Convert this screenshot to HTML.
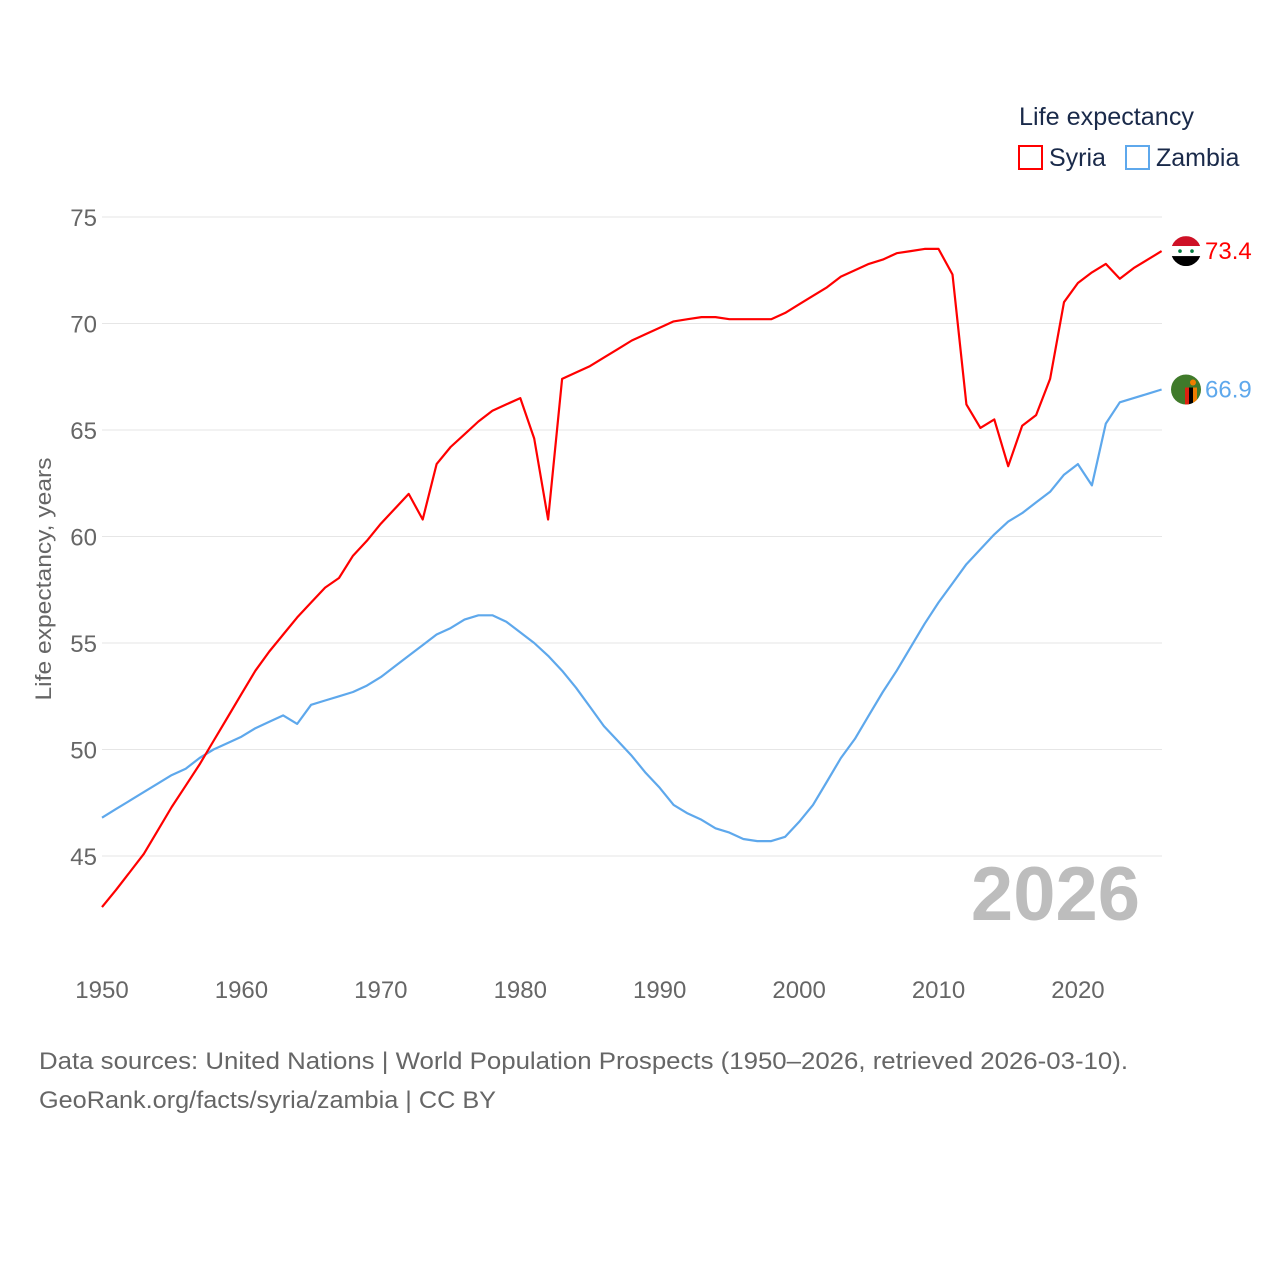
<!DOCTYPE html>
<html><head><meta charset="utf-8">
<style>
body{margin:0;background:#fff;font-family:"Liberation Sans",sans-serif;}
#wrap{position:relative;width:1280px;height:1280px;overflow:hidden;}
svg text{font-family:"Liberation Sans",sans-serif;}
</style></head>
<body>
<div id="wrap">
<svg id="chart" width="1280" height="1280"></svg>
</div>
<script>
const years = [];
for (let y = 1950; y <= 2026; y++) years.push(y);
const syria = [42.6,43.4,44.25,45.1,46.2,47.3,48.3,49.3,50.4,51.5,52.6,53.7,54.6,55.4,56.2,56.9,57.6,58.05,59.1,59.8,60.6,61.3,62.0,60.8,63.4,64.2,64.8,65.4,65.9,66.2,66.5,64.6,60.8,67.4,67.7,68.0,68.4,68.8,69.2,69.5,69.8,70.1,70.2,70.3,70.3,70.2,70.2,70.2,70.2,70.5,70.9,71.3,71.7,72.2,72.5,72.8,73.0,73.3,73.4,73.5,73.5,72.3,66.2,65.1,65.5,63.3,65.2,65.7,67.4,71.0,71.9,72.4,72.8,72.1,72.6,73.0,73.4];
const zambia = [46.8,47.2,47.6,48.0,48.4,48.8,49.1,49.6,50.0,50.3,50.6,51.0,51.3,51.6,51.2,52.1,52.3,52.5,52.7,53.0,53.4,53.9,54.4,54.9,55.4,55.7,56.1,56.3,56.3,56.0,55.5,55.0,54.4,53.7,52.9,52.0,51.1,50.4,49.7,48.9,48.2,47.4,47.0,46.7,46.3,46.1,45.8,45.7,45.7,45.9,46.6,47.4,48.5,49.6,50.5,51.6,52.7,53.7,54.8,55.9,56.9,57.8,58.7,59.4,60.1,60.7,61.1,61.6,62.1,62.9,63.4,62.4,65.3,66.3,66.5,66.7,66.9];
const yTicks = [45,50,55,60,65,70,75];
const xTicks = [1950,1960,1970,1980,1990,2000,2010,2020];
const NS="http://www.w3.org/2000/svg";
const svg=document.getElementById('chart');
const X=v=>102+(v-1950)*(1161.6-102)/76;
const Y=v=>217+(75-v)*(856-217)/30;
function mk(tag,attrs,parent){const e=document.createElementNS(NS,tag);for(const k in attrs)e.setAttribute(k,attrs[k]);(parent||svg).appendChild(e);return e;}
function txt(s,attrs){const e=mk('text',attrs);e.textContent=s;return e;}
yTicks.forEach(t=>{
  const l=mk('line',{x1:102,x2:1162,y1:Y(t),y2:Y(t),stroke:'#e6e6e6','stroke-width':1});
  
  
  const e=txt(String(t),{x:97,y:Y(t)+9,'text-anchor':'end','font-size':24,fill:'#666'});
  
  
});
xTicks.forEach(t=>{
  const e=txt(String(t),{x:X(t),y:998,'text-anchor':'middle','font-size':24,fill:'#666'});
  
  
});
const yt=txt('Life expectancy, years',{x:0,y:0,transform:'translate(51,579) rotate(-90)','text-anchor':'middle','font-size':22,fill:'#666',textLength:243,lengthAdjust:'spacingAndGlyphs'});


const yr=txt('2026',{x:1140,y:920,'text-anchor':'end','font-size':76,'font-weight':'bold',fill:'#bdbdbd'});


function line(vals,color,name){
  const d=vals.map((v,i)=>(i?'L':'M')+X(years[i]).toFixed(1)+','+Y(v).toFixed(1)).join(' ');
  const p=mk('path',{d:d,fill:'none',stroke:color,'stroke-width':2.2,'stroke-linejoin':'round'});
  
  
}
line(zambia,'#5ea8ec','zambia-line');
line(syria,'#f00','syria-line');
const sl=syria[syria.length-1], zl=zambia[zambia.length-1];
const sg=mk('g',{});


const cy1=Y(sl);
mk('clipPath',{id:'c1'},sg); mk('circle',{cx:1186,cy:cy1,r:15},sg.lastChild);
const g1=mk('g',{'clip-path':'url(#c1)'},sg);
mk('rect',{x:1171,y:cy1-15,width:30,height:10,fill:'#ce1126'},g1);
mk('rect',{x:1171,y:cy1-5,width:30,height:10,fill:'#fff'},g1);
mk('rect',{x:1171,y:cy1+5,width:30,height:10,fill:'#000'},g1);
mk('circle',{cx:1180,cy:cy1,r:1.8,fill:'#007a3d'},g1);mk('circle',{cx:1192,cy:cy1,r:1.8,fill:'#007a3d'},g1);
const sv=txt(sl.toFixed(1),{x:1205,y:cy1+8,'font-size':24,fill:'#f00'});


const zg=mk('g',{});


const cy2=Y(zl);
mk('clipPath',{id:'c2'},zg); mk('circle',{cx:1186,cy:cy2,r:15},zg.lastChild);
const g2=mk('g',{'clip-path':'url(#c2)'},zg);
mk('rect',{x:1171,y:cy2-15,width:30,height:30,fill:'#3f7a2a'},g2);
mk('rect',{x:1185,y:cy2-2,width:4,height:17,fill:'#de2010'},g2);
mk('rect',{x:1189,y:cy2-2,width:4,height:17,fill:'#000'},g2);
mk('rect',{x:1193,y:cy2-2,width:4,height:17,fill:'#ef7d00'},g2);
mk('circle',{cx:1193,cy:cy2-7,r:3,fill:'#ef7d00'},g2);
const zv=txt(zl.toFixed(1),{x:1205,y:cy2+8,'font-size':24,fill:'#5ea8ec'});


const lt=txt('Life expectancy',{x:1019,y:125,'font-size':25,fill:'#1a2a4a',textLength:175,lengthAdjust:'spacingAndGlyphs'});


const r1=mk('rect',{x:1019,y:146,width:23,height:23,fill:'none',stroke:'#f00','stroke-width':2});


const l1=txt('Syria',{x:1049,y:166,'font-size':25,fill:'#1a2a4a'});


const r2=mk('rect',{x:1126,y:146,width:23,height:23,fill:'none',stroke:'#5ea8ec','stroke-width':2});


const l2=txt('Zambia',{x:1156,y:166,'font-size':25,fill:'#1a2a4a'});


const s1=txt('Data sources: United Nations | World Population Prospects (1950–2026, retrieved 2026-03-10).',{x:39,y:1069,'font-size':24,fill:'#666',textLength:1089,lengthAdjust:'spacingAndGlyphs'});


const s2=txt('GeoRank.org/facts/syria/zambia | CC BY',{x:39,y:1108,'font-size':24,fill:'#666',textLength:457,lengthAdjust:'spacingAndGlyphs'});


</script>
</body></html>
